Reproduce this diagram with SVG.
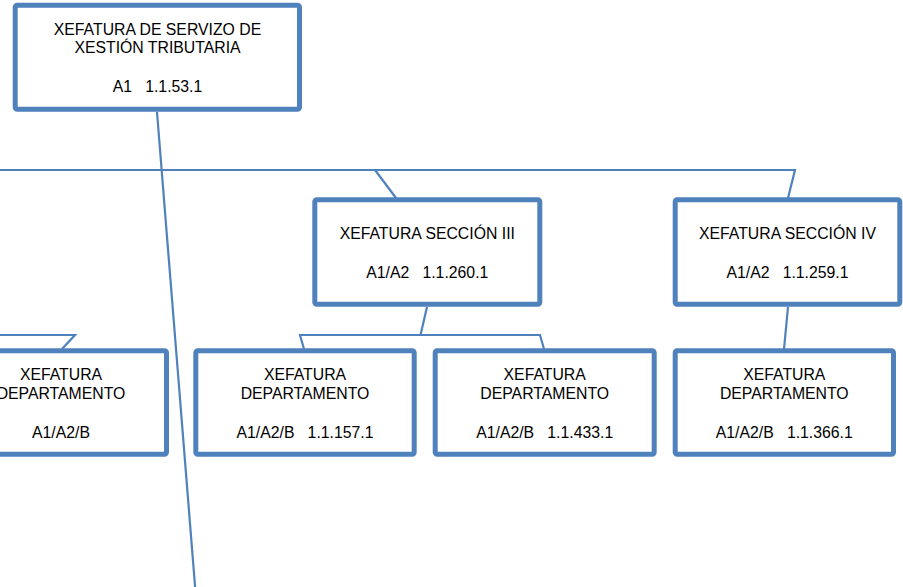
<svg xmlns="http://www.w3.org/2000/svg" width="903" height="587" viewBox="0 0 903 587">
<style>
.box{fill:#fff;stroke:#4F81BD;stroke-width:5;}
.c{fill:none;stroke:#4F81BD;stroke-width:2.2;stroke-linejoin:miter;}
text{font-family:"Liberation Sans",Arial,sans-serif;font-size:15.8px;fill:#000;text-anchor:middle;white-space:pre;}
</style>
<rect width="903" height="587" fill="#fff"/>
<g id="connectors">
<polyline class="c" points="-5,170 795,170 788,198"/>
<line class="c" x1="375" y1="170" x2="396" y2="198"/>
<polyline class="c" points="304,349 300,335 540,335 544,349"/>
<line class="c" x1="427" y1="307" x2="420.5" y2="335"/>
<line class="c" x1="788" y1="307" x2="784" y2="349"/>
<polyline class="c" points="-5,335 75,335 62,349"/>
</g>
<g id="n_top">
<rect class="box" x="15.2" y="5.2" width="284.3" height="104" rx="2"/>
<text x="157.5" y="35">XEFATURA DE SERVIZO DE</text>
<text x="157.5" y="53.3">XESTIÓN TRIBUTARIA</text>
<text x="157.5" y="92">A1   1.1.53.1</text>
</g>
<g id="n_sec3">
<rect class="box" x="314.8" y="199.8" width="225" height="104.4" rx="2"/>
<text x="427.3" y="239.3">XEFATURA SECCIÓN III</text>
<text x="427.3" y="278.3">A1/A2   1.1.260.1</text>
</g>
<g id="n_sec4">
<rect class="box" x="675.2" y="199.8" width="224.6" height="104.4" rx="2"/>
<text x="787.5" y="239.3">XEFATURA SECCIÓN IV</text>
<text x="787.5" y="278.3">A1/A2   1.1.259.1</text>
</g>
<g id="n_dep1">
<rect class="box" x="-50" y="350.8" width="216.5" height="103.4" rx="2"/>
<text x="61" y="380">XEFATURA</text>
<text x="61" y="399">DEPARTAMENTO</text>
<text x="61" y="438.3">A1/A2/B</text>
</g>
<g id="n_dep2">
<rect class="box" x="195.8" y="350.8" width="218.4" height="103.4" rx="2"/>
<text x="305" y="380">XEFATURA</text>
<text x="305" y="399">DEPARTAMENTO</text>
<text x="305" y="438.3">A1/A2/B   1.1.157.1</text>
</g>
<g id="n_dep3">
<rect class="box" x="435.2" y="350.8" width="219" height="103.4" rx="2"/>
<text x="544.7" y="380">XEFATURA</text>
<text x="544.7" y="399">DEPARTAMENTO</text>
<text x="544.7" y="438.3">A1/A2/B   1.1.433.1</text>
</g>
<g id="n_dep4">
<rect class="box" x="675.2" y="350.8" width="218.3" height="103.4" rx="2"/>
<text x="784.3" y="380">XEFATURA</text>
<text x="784.3" y="399">DEPARTAMENTO</text>
<text x="784.3" y="438.3">A1/A2/B   1.1.366.1</text>
</g>
<g id="connector_long">
<line class="c" x1="157" y1="112" x2="195.5" y2="592"/>
</g>
</svg>
